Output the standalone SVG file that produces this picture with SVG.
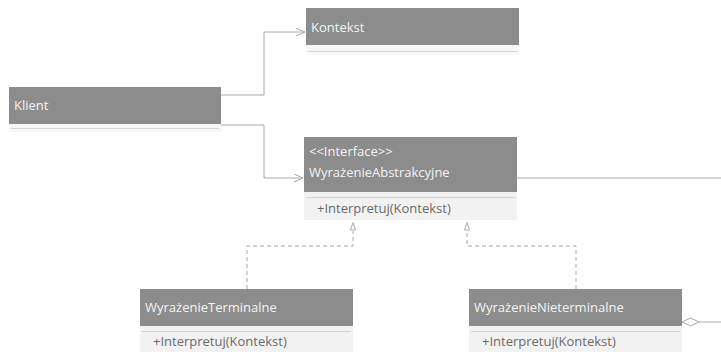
<svg xmlns="http://www.w3.org/2000/svg" width="721" height="352" viewBox="0 0 721 352">
<style>
.hd{fill:#8c8c8c}
.cp{fill:#f2f2f2}
.sep{stroke:#d4d4d4;stroke-width:1}
.t{font-family:"Open Sans","Noto Sans",sans-serif;font-size:13px;fill:#f4f4f4}
.m{font-family:"Open Sans","Noto Sans",sans-serif;font-size:13px;fill:#6a6a6a}
.ln{fill:none;stroke:#a8a8a8;stroke-width:1}
.dl{fill:none;stroke:#a8a8a8;stroke-width:1;stroke-dasharray:4,3}
</style>
<defs>
<marker id="open" markerWidth="10" markerHeight="10" refX="9" refY="4" orient="auto" markerUnits="userSpaceOnUse">
<path d="M0,0 L9,4 L0,8" fill="none" stroke="#a8a8a8" stroke-width="1"/>
</marker>
</defs>
<rect width="721" height="352" fill="#ffffff"/>
<g id="connectors">
<polyline class="ln" points="221,95 264,95 264,32 305,32" marker-end="url(#open)"/>
<polyline class="ln" points="221,125 264,125 264,178 303,178" marker-end="url(#open)"/>
<line class="ln" x1="517" y1="178" x2="721" y2="178"/>
<polyline class="dl" points="247,289 247,246 353,246 353,231"/>
<path d="M350.5,230 L353,222.5 L355.5,230 Z" fill="#ffffff" stroke="#a8a8a8" stroke-width="1"/>
<polyline class="dl" points="576,289 576,246 467,246 467,231"/>
<path d="M464.5,230 L467,222.5 L469.5,230 Z" fill="#ffffff" stroke="#a8a8a8" stroke-width="1"/>
<path d="M682,322 L690.5,318 L699,322 L690.5,326 Z" fill="#ffffff" stroke="#a8a8a8" stroke-width="1"/>
<line class="ln" x1="699" y1="322" x2="721" y2="322"/>
</g>
<g id="klient">
<rect class="hd" x="9" y="87" width="212" height="37"/>
<rect class="cp" x="9" y="124" width="212" height="8" fill-opacity="0.6"/>
<line class="sep" x1="11" y1="128.5" x2="219" y2="128.5"/>
<text class="t" x="14" y="110">Klient</text>
</g>
<g id="kontekst">
<rect class="hd" x="306" y="8" width="213" height="37"/>
<rect class="cp" x="306" y="45" width="213" height="10" fill-opacity="0.6"/>
<line class="sep" x1="308" y1="51.5" x2="517" y2="51.5"/>
<text class="t" x="311" y="32">Kontekst</text>
</g>
<g id="wyrazenieAbstrakcyjne">
<rect class="hd" x="304" y="137" width="213" height="55"/>
<rect class="cp" x="304" y="192" width="213" height="28"/>
<line class="sep" x1="306" y1="197.5" x2="515" y2="197.5"/>
<text class="t" x="309" y="156">&lt;&lt;Interface&gt;&gt;</text>
<text class="t" x="309" y="177">WyrażenieAbstrakcyjne</text>
<text class="m" x="317" y="213">+Interpretuj(Kontekst)</text>
</g>
<g id="wyrazenieTerminalne">
<rect class="hd" x="140" y="289" width="213" height="37"/>
<rect class="cp" x="140" y="326" width="213" height="26"/>
<line class="sep" x1="142" y1="331.5" x2="351" y2="331.5"/>
<text class="t" x="145" y="312">WyrażenieTerminalne</text>
<text class="m" x="153" y="346">+Interpretuj(Kontekst)</text>
</g>
<g id="wyrazenieNieterminalne">
<rect class="hd" x="469" y="289" width="213" height="37"/>
<rect class="cp" x="469" y="326" width="213" height="26"/>
<line class="sep" x1="471" y1="331.5" x2="680" y2="331.5"/>
<text class="t" x="474" y="312">WyrażenieNieterminalne</text>
<text class="m" x="482" y="346">+Interpretuj(Kontekst)</text>
</g>
</svg>
